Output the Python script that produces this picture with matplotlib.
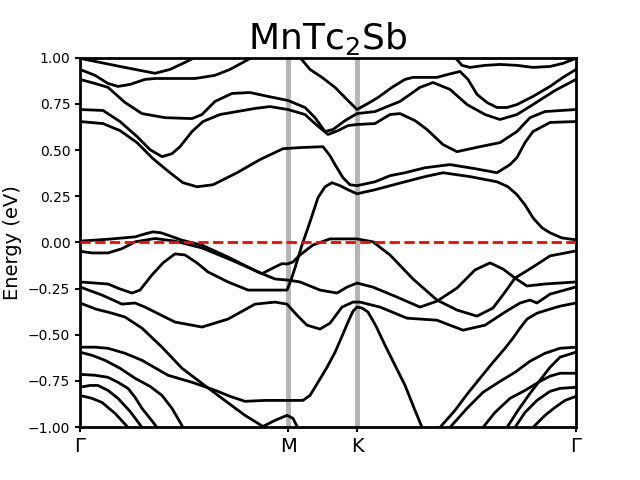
import matplotlib
matplotlib.use("Agg")
import matplotlib.pyplot as plt

# high-symmetry points along the path (arbitrary length units)
kpts = [0.0, 2.08, 2.77, 4.96]
klabels = ["Γ", "M", "K", "Γ"]

# bands: k positions and energies (eV)
b01_k = [0, .20, .40, .60, .75, .90, 1.05, 1.15, 1.25]
b01_e = [.996, .974, .952, .931, .915, .936, .974, 1.001, 1.034]

b02_k = [0, .15, .28, .38, .50, .65, .75, .95, 1.15, 1.35, 1.50, 1.65, 1.72, 1.80]
b02_e = [.936, .904, .860, .844, .855, .882, .887, .887, .887, .904, .936, .980, 1.001, 1.023]

b03_k = [0, .15, .28, .45, .62, .85, 1.12, 1.22, 1.35, 1.52, 1.70, 1.88, 2.08, 2.25, 2.35,
         2.45, 2.53, 2.65, 2.77, 2.95, 3.20, 3.40, 3.53, 3.70, 3.87, 4.05, 4.20, 4.37, 4.53,
         4.75, 4.96]
b03_e = [.882, .860, .839, .757, .697, .675, .670, .692, .763, .806, .811, .790, .768, .730,
         .675, .600, .611, .659, .697, .708, .763, .839, .865, .828, .746, .692, .665, .692,
         .746, .822, .882]

b04_k = [0, .23, .40, .57, .70, .82, .92, 1.00, 1.12, 1.23, 1.40, 1.57, 1.75, 1.90, 2.08,
         2.25, 2.36, 2.48, 2.58, 2.68, 2.77, 2.95, 3.10, 3.20, 3.35, 3.47, 3.63, 3.77, 4.00,
         4.20, 4.37, 4.50, 4.65, 4.96]
b04_e = [.719, .714, .654, .573, .502, .464, .480, .518, .600, .654, .692, .708, .725, .735,
         .719, .692, .638, .584, .605, .632, .638, .643, .692, .697, .659, .611, .529, .491,
         .518, .540, .600, .675, .708, .719]

b05_k = [0, .23, .40, .57, .73, .90, 1.03, 1.17, 1.33, 1.57, 1.80, 2.03, 2.20, 2.43, 2.50,
         2.55, 2.63, 2.70, 2.77, 2.95, 3.10, 3.25, 3.45, 3.70, 3.95, 4.17, 4.30, 4.37, 4.45,
         4.53, 4.70, 4.96]
b05_e = [.654, .643, .605, .540, .453, .377, .323, .301, .312, .377, .448, .507, .513, .518,
         .469, .421, .350, .312, .307, .328, .361, .377, .404, .421, .399, .377, .421, .459,
         .540, .600, .649, .654]

b06_k = [2.15, 2.20, 2.30, 2.42, 2.55, 2.67, 2.77, 2.88, 2.98, 3.12, 3.25, 3.33, 3.45, 3.57,
         3.68, 3.80, 3.88, 3.97, 4.07, 4.17, 4.27, 4.37, 4.53, 4.70, 4.83, 4.96]
b06_e = [1.045, 1.001, .936, .893, .839, .773, .719, .752, .784, .839, .882, .893, .893, .893,
         .909, .925, .882, .801, .757, .730, .730, .746, .790, .844, .893, .936]

b07_k = [2.55, 2.65, 2.77, 2.89, 2.99]
b07_e = [1.034, 1.012, .996, 1.012, 1.034]

b08_k = [3.70, 3.75, 3.82, 3.90, 4.05, 4.20, 4.37, 4.53, 4.70, 4.83, 4.96]
b08_e = [1.056, 1.001, .958, .947, .958, .963, .958, .947, .952, .969, .996]

b09_k = [0, .15, .28, .40, .52, .60, .72, .83, .95, 1.05, 1.17, 1.28, 1.48, 1.68, 1.88, 2.07,
         2.11, 2.15, 2.22, 2.30, 2.38, 2.45, 2.52, 2.60, 2.68, 2.77, 2.95, 3.25, 3.45, 3.63,
         3.90, 4.17, 4.28, 4.37, 4.45, 4.53, 4.62, 4.70, 4.82, 4.96]
b09_e = [-.214, -.220, -.225, -.252, -.274, -.258, -.176, -.111, -.062, -.068, -.111, -.160,
         -.214, -.258, -.258, -.258, -.204, -.138, -.014, .111, .242, .301, .323, .307, .285,
         .263, .285, .328, .356, .377, .356, .328, .301, .258, .203, .133, .079, .052, .024,
         .014]

b10_k = [0, .28, .55, .65, .73, .81, .88, 1.02, 1.22, 1.48, 1.78, 1.95, 2.08, 2.20, 2.40,
         2.57, 2.67, 2.77, 2.93, 3.17, 3.40, 3.57, 3.77, 3.95, 4.10, 4.23, 4.35, 4.47, 4.65,
         4.96]
b10_e = [.007, .017, .030, .046, .057, .052, .039, .012, -.015, -.079, -.160, -.198, -.204,
         -.214, -.258, -.274, -.242, -.220, -.242, -.296, -.350, -.318, -.247, -.149, -.111,
         -.144, -.193, -.236, -.225, -.214]

b11_k = [0, .12, .28, .42, .55, .75, .95, 1.22, 1.52, 1.82, 1.95, 2.02, 2.07, 2.13, 2.20,
         2.33, 2.50, 2.65, 2.77, 2.93, 3.10, 3.33, 3.57, 3.77, 3.97, 4.13, 4.25, 4.35, 4.53,
         4.70, 4.96]
b11_e = [-.048, -.057, -.057, -.034, .003, .021, .007, -.030, -.097, -.169, -.133, -.115,
         -.117, -.106, -.068, -.014, .019, .019, .019, .003, -.068, -.198, -.312, -.366,
         -.399, -.355, -.269, -.193, -.133, -.073, -.046]

b12_k = [0, .22, .42, .55, .65, .75, .95, 1.22, 1.48, 1.75, 1.95, 2.07, 2.17, 2.27, 2.40,
         2.50, 2.62, 2.73, 2.80, 3.00, 3.27, 3.57, 3.83, 4.05, 4.25, 4.40, 4.50, 4.57, 4.70,
         4.96]
b12_e = [-.241, -.285, -.334, -.328, -.350, -.377, -.431, -.458, -.415, -.334, -.323, -.334,
         -.394, -.448, -.469, -.437, -.350, -.323, -.323, -.350, -.410, -.421, -.475, -.448,
         -.377, -.328, -.312, -.328, -.280, -.241]

b13_k = [0, .16, .32, .45, .62, .82, 1.02, 1.22, 1.42, 1.65, 1.83, 1.95, 2.07, 2.13, 2.18, 2.22]
b13_e = [-.328, -.361, -.383, -.404, -.464, -.567, -.681, -.763, -.844, -.936, -.996, -.963,
         -.936, -.952, -1.007, -1.072]

b14_k = [0, .15, .28, .45, .62, .88, 1.12, 1.35, 1.50, 1.65, 1.85, 2.07, 2.23, 2.30, 2.38,
         2.47, 2.55, 2.62, 2.68, 2.73, 2.77, 2.82, 2.88, 2.96, 3.05, 3.15, 3.25, 3.33, 3.42,
         3.48]
b14_e = [-.567, -.567, -.573, -.600, -.638, -.719, -.757, -.800, -.833, -.860, -.855, -.855,
         -.855, -.828, -.757, -.676, -.595, -.508, -.431, -.372, -.350, -.355, -.377, -.453,
         -.556, -.665, -.773, -.882, -1.001, -1.099]

b15_k = [0, .12, .25, .40, .55, .70, .82, .92, 1.02, 1.06]
b15_e = [-.594, -.611, -.638, -.681, -.735, -.779, -.828, -.898, -.991, -1.045]

b16_k = [0, .15, .28, .38, .48, .55, .62, .70, .77, .82]
b16_e = [-.714, -.719, -.730, -.757, -.790, -.838, -.898, -.952, -1.001, -1.045]

b17_k = [0, .10, .18, .28, .38, .50, .62, .68]
b17_e = [-.784, -.774, -.774, -.801, -.844, -.914, -1.001, -1.050]

b18_k = [0, .12, .22, .35, .48, .55]
b18_e = [-.828, -.844, -.866, -.925, -1.001, -1.050]

b19_k = [3.55, 3.60, 3.75, 3.87, 4.00, 4.13, 4.25, 4.33, 4.40, 4.47, 4.57, 4.67, 4.80, 4.96]
b19_e = [-1.072, -1.001, -.909, -.822, -.735, -.649, -.573, -.518, -.464, -.415, -.383,
         -.366, -.345, -.328]

b20_k = [3.65, 3.70, 3.87, 4.03, 4.20, 4.35, 4.50, 4.65, 4.80, 4.96]
b20_e = [-1.072, -1.001, -.898, -.811, -.752, -.703, -.643, -.600, -.573, -.567]

b21_k = [3.98, 4.03, 4.15, 4.30, 4.45, 4.60, 4.70, 4.80, 4.96]
b21_e = [-1.072, -1.001, -.920, -.844, -.801, -.752, -.724, -.708, -.708]

b22_k = [4.22, 4.27, 4.38, 4.50, 4.60, 4.70, 4.80, 4.96]
b22_e = [-1.072, -1.001, -.909, -.817, -.746, -.676, -.621, -.594]

b23_k = [4.30, 4.35, 4.45, 4.57, 4.70, 4.80, 4.96]
b23_e = [-1.072, -1.001, -.920, -.855, -.806, -.790, -.784]

b24_k = [4.48, 4.53, 4.65, 4.75, 4.85, 4.96]
b24_e = [-1.072, -1.001, -.936, -.893, -.855, -.833]

bands = [
    (b01_k, b01_e), (b02_k, b02_e), (b03_k, b03_e), (b04_k, b04_e), (b05_k, b05_e),
    (b06_k, b06_e), (b07_k, b07_e), (b08_k, b08_e), (b09_k, b09_e), (b10_k, b10_e),
    (b11_k, b11_e), (b12_k, b12_e), (b13_k, b13_e), (b14_k, b14_e), (b15_k, b15_e),
    (b16_k, b16_e), (b17_k, b17_e), (b18_k, b18_e), (b19_k, b19_e), (b20_k, b20_e),
    (b21_k, b21_e), (b22_k, b22_e), (b23_k, b23_e), (b24_k, b24_e),
]

fig, ax = plt.subplots(figsize=(6.4, 4.8), dpi=100)

for k in kpts[1:-1]:
    ax.axvline(k, color="#b4b4b4", lw=3.5, zorder=1)

for k, e in bands:
    ax.plot(k, e, color="k", lw=2, zorder=2, solid_joinstyle="round")

ax.axhline(0, color="red", ls="--", lw=2, zorder=3)

ax.set_xlim(kpts[0], kpts[-1])
ax.set_ylim(-1, 1)
ax.set_xticks(kpts)
ax.set_xticklabels(klabels, fontsize=14)
ax.set_yticks([-1, -0.75, -0.5, -0.25, 0, 0.25, 0.5, 0.75, 1.0])
ax.set_ylabel("Energy (eV)", fontsize=14)
ax.set_title("MnTc$_2$Sb", fontsize=26)
for s in ax.spines.values():
    s.set_linewidth(2)
ax.tick_params(width=1.5)

fig.savefig("out.png", dpi=100)
